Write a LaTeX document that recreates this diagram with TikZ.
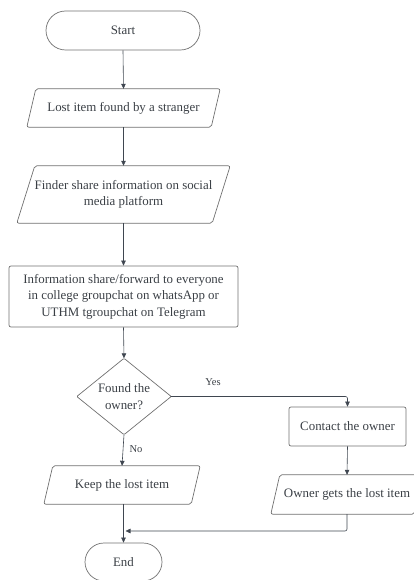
\documentclass[tikz,border=0pt]{standalone}
\usepackage{fontspec}
\setmainfont{Liberation Serif}
\usetikzlibrary{calc,arrows.meta}
\definecolor{linec}{HTML}{3F4650}
\definecolor{boxc}{HTML}{707070}
\definecolor{txtc}{HTML}{3A3F45}
\begin{document}
\begin{tikzpicture}[x=1pt,y=-1pt,
  font=\fontsize{12.9}{16.5}\selectfont,
  every node/.style={text=txtc, inner sep=0pt},
  outline/.style={draw=boxc, line width=0.7pt},
  txt/.style={align=center},
  conn/.style={draw=linec, line width=0.6pt, -{Triangle[length=5pt,width=4.5pt]}},
  lbl/.style={font=\fontsize{10.5}{12}\selectfont, text=txtc}]
\useasboundingbox (0,0) rectangle (414,580);
\clip (0,0) rectangle (414,580);

% Start
\node[outline, rounded corners=19.5pt, minimum width=154pt, minimum height=39pt] (start) at (123,30.5) {Start};

% Lost item
\node[txt, minimum width=193pt, minimum height=38pt] (lost) at (123.5,108) {Lost item found by a stranger};
\draw[outline, rounded corners=2pt] ($(lost.north west)+(9,0)$) -- (lost.north east) -- ($(lost.south east)+(-9,0)$) -- (lost.south west) -- cycle;

% Finder
\node[txt, minimum width=213pt, minimum height=57pt] (finder) at (123.5,194.5) {Finder share information on social\\media platform};
\draw[outline, rounded corners=2pt] ($(finder.north west)+(18,0)$) -- (finder.north east) -- ($(finder.south east)+(-18,0)$) -- (finder.south west) -- cycle;

% Info
\node[outline, txt, rounded corners=2pt, minimum width=229pt, minimum height=61pt] (info) at (123.5,296.5) {Information share/forward to everyone\\in college groupchat on whatsApp or\\UTHM tgroupchat on Telegram};

% Decision
\node[txt, minimum width=94pt, minimum height=76pt] (dec) at (124,396.5) {Found the\\owner?};
\draw[outline, rounded corners=1pt] (dec.north) -- (dec.east) -- (dec.south) -- (dec.west) -- cycle;

% Contact
\node[outline, txt, rounded corners=2pt, minimum width=117pt, minimum height=39pt] (contact) at (347.5,426.5) {Contact the owner};

% Owner gets
\node[txt, minimum width=152pt, minimum height=39pt] (owner) at (347,494.5) {Owner gets the lost item};
\draw[outline, rounded corners=2pt] ($(owner.north west)+(9,0)$) -- (owner.north east) -- ($(owner.south east)+(-9,0)$) -- (owner.south west) -- cycle;

% Keep
\node[txt, minimum width=156pt, minimum height=38pt] (keep) at (122,485) {Keep the lost item};
\draw[outline, rounded corners=2pt] ($(keep.north west)+(9,0)$) -- (keep.north east) -- ($(keep.south east)+(-9,0)$) -- (keep.south west) -- cycle;

% End
\node[outline, rounded corners=19pt, minimum width=77pt, minimum height=38pt] (end) at (123.5,562) {End};

% Connectors
\draw[conn] (start.south) -- (lost.north);
\draw[conn] (lost.south) -- (finder.north);
\draw[conn] (finder.south) -- (info.north);
\draw[conn] (info.south) -- (dec.north);
\draw[conn, rounded corners=2pt] (dec.east) -| (contact.north);
\node[lbl] (yes) at (213,382) {Yes};
\draw[conn] (dec.south) -- (keep.north);
\node[lbl] (no) at (136,449) {No};
\draw[conn] (contact.south) -- (owner.north);
\draw[conn] (keep.south -| end.north) -- (end.north);
\coordinate (join) at (125.5,531);
\draw[conn, rounded corners=2pt] (owner.south) |- (join);
\end{tikzpicture}
\end{document}
